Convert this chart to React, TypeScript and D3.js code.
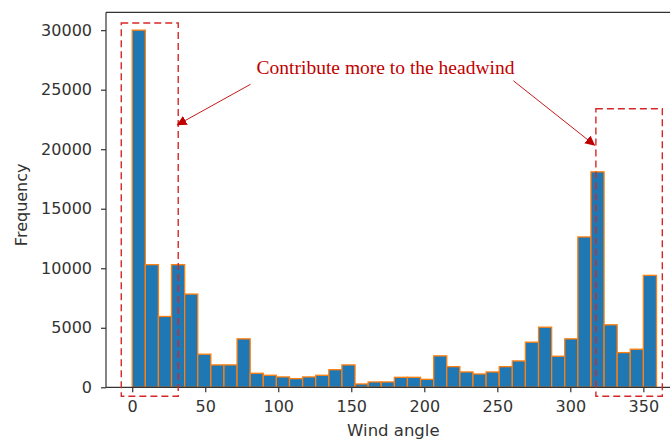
import React, { useRef, useEffect } from "react";
import * as d3 from "d3";

// histogram counts, 40 bins spanning 0..359 degrees
const binStart = 0;
const binEnd = 359;
const counts = [
  30000, 10300, 5950, 10300, 7830, 2780, 1880, 1880, 4070, 1180,
  1010, 870, 730, 870, 1010, 1480, 1880, 280, 450, 450,
  840, 840, 670, 2640, 1735, 1290, 1120, 1290, 1735, 2215,
  3790, 5050, 2610, 4070, 12630, 18100, 5250, 2915, 3200, 9400,
];
const xTicks = [0, 50, 100, 150, 200, 250, 300, 350];
const yTicks = [0, 5000, 10000, 15000, 20000, 25000, 30000];

// annotation boxes in data coords [x0, x1, yTop, yBottom]
const boxes = [
  [-7.5, 31.5, 30600, -750],
  [317.5, 363, 23400, -750],
];
const noteText = "Contribute more to the headwind";
// arrows: [fromX, fromY, toX, toY] in data coords
const arrows = [
  [81, 25450, 31, 22050],
  [261, 25750, 316.5, 20350],
];

const W = 670;
const H = 443;

const App = () => {
  const svgRef = useRef(null);

  useEffect(() => {
    const svg = d3.select(svgRef.current);
    svg.selectAll("*").remove();

    const left = 106, right = 682.7, top = 12.3, bottom = 387.3;
    const maxCount = d3.max(counts) || 1;
    const pad = (binEnd - binStart) * 0.05;

    const x = d3.scaleLinear().domain([binStart - pad, binEnd + pad]).range([left, right]);
    const y = d3.scaleLinear().domain([0, maxCount * 1.05]).range([bottom, top]);
    const step = (binEnd - binStart) / counts.length;
    const font = "'DejaVu Sans', sans-serif";
    const ink = "#333";

    // arrow marker
    svg.append("defs").append("marker")
      .attr("id", "head")
      .attr("viewBox", "0 0 10 10")
      .attr("refX", 9).attr("refY", 5)
      .attr("markerWidth", 10).attr("markerHeight", 10)
      .attr("markerUnits", "userSpaceOnUse")
      .attr("orient", "auto")
      .append("path").attr("d", "M0,0 L10,5 L0,10 z").attr("fill", "#c00000");

    // bars
    svg.append("g")
      .selectAll("rect")
      .data(counts)
      .enter()
      .append("rect")
      .attr("x", (d, i) => x(binStart + i * step))
      .attr("y", (d) => y(d))
      .attr("width", x(step) - x(0))
      .attr("height", (d) => bottom - y(d))
      .attr("fill", "#1f77b4")
      .attr("stroke", "#ff7f0e")
      .attr("stroke-width", 1.3);

    // spines
    svg.append("line").attr("x1", left).attr("x2", left).attr("y1", top).attr("y2", bottom)
      .attr("stroke", ink).attr("stroke-width", 1.2);
    svg.append("line").attr("x1", left).attr("x2", right).attr("y1", top).attr("y2", top)
      .attr("stroke", ink).attr("stroke-width", 1.2);
    svg.append("line").attr("x1", left).attr("x2", right).attr("y1", bottom).attr("y2", bottom)
      .attr("stroke", ink).attr("stroke-width", 1.2);

    // x axis
    const xAxis = svg.append("g")
      .attr("transform", `translate(0, ${bottom})`)
      .call(d3.axisBottom(x).tickValues(xTicks).tickSize(5).tickPadding(8).tickFormat(d3.format("d")));
    xAxis.select(".domain").remove();
    xAxis.selectAll("line").attr("stroke", ink).attr("stroke-width", 1.2);
    xAxis.selectAll("text").attr("fill", ink).style("font-family", font).style("font-size", "16px");

    // y axis
    const yAxis = svg.append("g")
      .attr("transform", `translate(${left}, 0)`)
      .call(d3.axisLeft(y).tickValues(yTicks).tickSize(5).tickPadding(9).tickFormat(d3.format("d")));
    yAxis.select(".domain").remove();
    yAxis.selectAll("line").attr("stroke", ink).attr("stroke-width", 1.2);
    yAxis.selectAll("text").attr("fill", ink).style("font-family", font).style("font-size", "16px");

    svg.append("text")
      .attr("x", (left + right) / 2 - 1)
      .attr("y", 436)
      .attr("text-anchor", "middle")
      .attr("fill", ink)
      .style("font-family", font).style("font-size", "16.5px")
      .text("Wind angle");

    svg.append("text")
      .attr("transform", `translate(27, ${(top + bottom) / 2 + 5}) rotate(-90)`)
      .attr("text-anchor", "middle")
      .attr("fill", ink)
      .style("font-family", font).style("font-size", "16px")
      .text("Frequency");

    // annotation boxes
    svg.append("g")
      .selectAll("rect")
      .data(boxes)
      .enter()
      .append("rect")
      .attr("x", (b) => x(b[0]))
      .attr("y", (b) => y(b[2]))
      .attr("width", (b) => x(b[1]) - x(b[0]))
      .attr("height", (b) => y(b[3]) - y(b[2]))
      .attr("fill", "none")
      .attr("stroke", "#d62728")
      .attr("stroke-width", 1.4)
      .attr("stroke-dasharray", "7,4");

    svg.append("g")
      .selectAll("line")
      .data(arrows)
      .enter()
      .append("line")
      .attr("x1", (a) => x(a[0])).attr("y1", (a) => y(a[1]))
      .attr("x2", (a) => x(a[2])).attr("y2", (a) => y(a[3]))
      .attr("stroke", "#c00000")
      .attr("stroke-width", 0.9)
      .attr("marker-end", "url(#head)");

    svg.append("text")
      .attr("x", 385.5)
      .attr("y", 74)
      .attr("text-anchor", "middle")
      .attr("fill", "#c00000")
      .style("font-family", "'Liberation Serif', 'Times New Roman', serif")
      .style("font-size", "19.5px")
      .text(noteText);
  }, []);

  return (
    <div style={{ position: "fixed", left: 0, top: 0, width: W, height: H, background: "#fff" }}>
      <svg ref={svgRef} width={W} height={H} style={{ display: "block" }}></svg>
    </div>
  );
};

export default App;
